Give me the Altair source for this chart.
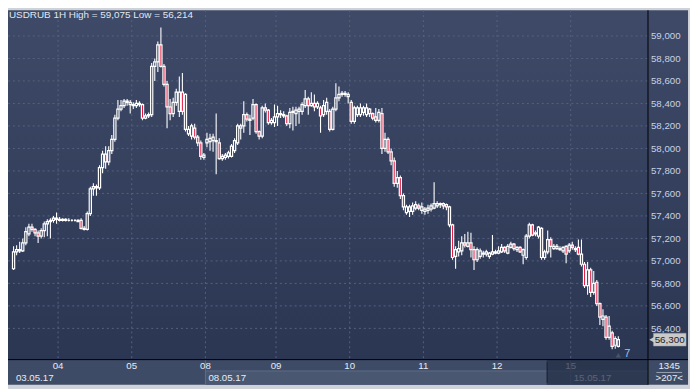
import altair as alt
import pandas as pd

SYMBOL = "USDRUB"
PERIOD = "1H"
DAY_LABELS = ["03", "04", "05", "08", "09", "10", "11", "12", "15"]
DAY_COUNTS = [15, 24, 24, 23, 24, 24, 24, 24, 16]
WEEK_LABELS = ["03.05.17", "08.05.17", "15.05.17"]
WEEK_FIRST_DAY = [0, 3, 8]
Y_TICKS = [56.4, 56.6, 56.8, 57.0, 57.2, 57.4, 57.6, 57.8, 58.0, 58.2, 58.4, 58.6, 58.8, 59.0]
SPREAD = "7"
INFO_TOP = "1345"
INFO_BOTTOM = ">207<"

OPEN = [
    # 03
    56.93, 57.08, 57.10, 57.09, 57.16, 57.24, 57.30, 57.28, 57.25, 57.22, 57.27, 57.33, 57.35, 57.36, 57.38,
    # 04
    57.37, 57.36, 57.37, 57.36, 57.36, 57.36, 57.36, 57.36, 57.29, 57.28, 57.42, 57.64, 57.66, 57.65, 57.83, 57.95,
    57.88, 57.98, 58.08, 58.27, 58.35, 58.38, 58.42, 58.41,
    # 05
    58.39, 58.38, 58.40, 58.39, 58.27, 58.29, 58.30, 58.73, 58.77, 58.92, 58.73, 58.57, 58.37, 58.31, 58.41, 58.33,
    58.50, 58.48, 58.13, 58.11, 58.18, 58.10, 58.05, 57.92,
    # 08
    58.05, 58.06, 58.07, 58.07, 58.05, 57.91, 57.92, 57.93, 57.93, 57.98, 58.05, 58.18, 58.20, 58.30, 58.25, 58.27,
    58.39, 58.15, 58.11, 58.36, 58.34, 58.23, 58.23,
    # 09
    58.28, 58.31, 58.30, 58.29, 58.22, 58.32, 58.31, 58.33, 58.33, 58.38, 58.44, 58.38, 58.40, 58.37, 58.36, 58.30,
    58.33, 58.33, 58.17, 58.35, 58.45, 58.48, 58.49, 58.48,
    # 10
    58.41, 58.24, 58.30, 58.30, 58.36, 58.30, 58.35, 58.31, 58.28, 58.25, 58.31, 58.00, 58.08, 57.97, 57.89, 57.69,
    57.74, 57.58, 57.43, 57.48, 57.44, 57.47, 57.49, 57.45,
    # 11
    57.44, 57.45, 57.46, 57.47, 57.49, 57.51, 57.51, 57.50, 57.48, 57.32, 57.04, 57.08, 57.09, 57.16, 57.13, 57.16,
    57.10, 57.01, 57.04, 57.06, 57.06, 57.04, 57.06, 57.07,
    # 12
    57.07, 57.08, 57.12, 57.07, 57.12, 57.15, 57.10, 57.12, 57.05, 57.03, 57.22, 57.32, 57.25, 57.22, 57.29, 57.03,
    57.08, 57.19, 57.11, 57.13, 57.10, 57.09, 57.13, 57.09,
    # 15
    57.14, 57.10, 57.12, 57.06, 56.97, 56.78, 56.92, 56.72, 56.81, 56.62, 56.48, 56.50, 56.32, 56.36, 56.25, 56.24,
]
HIGH = [
    57.13, 57.14, 57.17, 57.20, 57.30, 57.33, 57.33, 57.29, 57.27, 57.29, 57.35, 57.37, 57.38, 57.40, 57.43,
    57.39, 57.38, 57.38, 57.38, 57.37, 57.37, 57.37, 57.38, 57.31, 57.44, 57.66, 57.69, 57.68, 57.85, 57.98, 58.02,
    58.02, 58.12, 58.30, 58.43, 58.43, 58.44, 58.44, 58.43,
    58.41, 58.43, 58.42, 58.40, 58.31, 58.32, 58.76, 58.80, 58.95, 59.075, 58.75, 58.60, 58.44, 58.45, 58.53, 58.64,
    58.67, 58.49, 58.20, 58.22, 58.22, 58.12, 58.07, 57.96,
    58.14, 58.13, 58.13, 58.31, 58.09, 57.95, 57.96, 57.98, 58.04, 58.09, 58.22, 58.22, 58.42, 58.32, 58.30, 58.44,
    58.40, 58.16, 58.38, 58.40, 58.35, 58.27, 58.39,
    58.38, 58.34, 58.33, 58.30, 58.36, 58.37, 58.37, 58.37, 58.41, 58.52, 58.46, 58.50, 58.48, 58.42, 58.38, 58.43,
    58.45, 58.35, 58.37, 58.58, 58.55, 58.51, 58.51, 58.50,
    58.43, 58.38, 58.38, 58.40, 58.38, 58.40, 58.36, 58.32, 58.36, 58.35, 58.36, 58.14, 58.10, 58.00, 57.92, 57.80,
    57.76, 57.60, 57.50, 57.50, 57.52, 57.53, 57.51, 57.52,
    57.48, 57.50, 57.51, 57.70, 57.53, 57.52, 57.52, 57.51, 57.49, 57.33, 57.13, 57.18, 57.22, 57.24, 57.26, 57.25,
    57.13, 57.12, 57.11, 57.09, 57.10, 57.08, 57.23, 57.10,
    57.13, 57.15, 57.13, 57.15, 57.17, 57.16, 57.13, 57.13, 57.11, 57.24, 57.34, 57.33, 57.27, 57.31, 57.30, 57.10,
    57.27, 57.21, 57.15, 57.15, 57.13, 57.13, 57.14, 57.16,
    57.17, 57.13, 57.19, 57.19, 56.99, 56.99, 56.94, 56.91, 56.83, 56.63, 56.57, 56.52, 56.51, 56.38, 56.33, 56.33,
]
LOW = [
    56.92, 57.05, 57.07, 57.08, 57.14, 57.22, 57.26, 57.22, 57.16, 57.20, 57.21, 57.22, 57.20, 57.34, 57.33,
    57.35, 57.35, 57.35, 57.35, 57.35, 57.35, 57.35, 57.28, 57.27, 57.27, 57.40, 57.58, 57.58, 57.63, 57.78, 57.82,
    57.85, 57.95, 58.06, 58.25, 58.33, 58.36, 58.38, 58.31,
    58.35, 58.36, 58.37, 58.25, 58.26, 58.27, 58.28, 58.60, 58.68, 58.72, 58.55, 58.18, 58.25, 58.28, 58.38, 58.28,
    58.30, 58.15, 58.11, 58.08, 58.08, 58.02, 57.90, 57.90,
    58.01, 57.98, 57.97, 57.77, 57.90, 57.89, 57.90, 57.91, 57.92, 57.96, 58.03, 58.08, 58.14, 58.24, 58.12, 58.25,
    58.13, 58.08, 58.09, 58.32, 58.21, 58.21, 58.19,
    58.20, 58.27, 58.27, 58.20, 58.18, 58.16, 58.20, 58.22, 58.30, 58.36, 58.30, 58.37, 58.33, 58.35, 58.14, 58.28,
    58.30, 58.15, 58.16, 58.33, 58.42, 58.46, 58.46, 58.40,
    58.22, 58.22, 58.28, 58.28, 58.29, 58.28, 58.28, 58.25, 58.23, 58.23, 57.95, 57.97, 57.95, 57.85, 57.66, 57.65,
    57.55, 57.45, 57.41, 57.39, 57.41, 57.45, 57.45, 57.42,
    57.41, 57.42, 57.44, 57.46, 57.47, 57.47, 57.46, 57.45, 57.30, 57.01, 56.93, 57.04, 57.05, 57.12, 57.12, 57.03,
    56.92, 56.99, 57.02, 57.03, 57.04, 57.02, 57.05, 57.06,
    57.06, 57.07, 57.07, 57.06, 57.11, 57.09, 57.08, 57.07, 56.97, 57.01, 57.20, 57.22, 57.22, 57.20, 57.01, 57.01,
    57.06, 57.03, 57.10, 57.10, 57.09, 57.07, 56.98, 57.07,
    57.10, 57.08, 57.05, 56.95, 56.76, 56.70, 56.68, 56.70, 56.60, 56.43, 56.42, 56.30, 56.30, 56.214, 56.22, 56.23,
]
CLOSE = [
    57.08, 57.10, 57.09, 57.16, 57.26, 57.30, 57.28, 57.25, 57.22, 57.27, 57.33, 57.35, 57.36, 57.38, 57.37,
    57.36, 57.37, 57.36, 57.36, 57.36, 57.36, 57.35, 57.29, 57.28, 57.42, 57.64, 57.66, 57.65, 57.83, 57.95, 57.88,
    57.98, 58.08, 58.27, 58.35, 58.38, 58.42, 58.41, 58.39,
    58.38, 58.40, 58.39, 58.27, 58.29, 58.30, 58.73, 58.77, 58.92, 58.73, 58.57, 58.37, 58.31, 58.41, 58.50, 58.50,
    58.33, 58.17, 58.17, 58.20, 58.10, 58.05, 57.93, 57.94,
    58.08, 58.09, 58.10, 58.06, 57.91, 57.93, 57.94, 57.96, 58.02, 58.07, 58.20, 58.20, 58.30, 58.26, 58.26, 58.39,
    58.15, 58.11, 58.36, 58.34, 58.23, 58.25, 58.28,
    58.31, 58.30, 58.29, 58.22, 58.32, 58.33, 58.34, 58.35, 58.39, 58.44, 58.38, 58.40, 58.37, 58.40, 58.29, 58.38,
    58.41, 58.17, 58.35, 58.45, 58.48, 58.49, 58.48, 58.46,
    58.24, 58.36, 58.36, 58.36, 58.32, 58.36, 58.31, 58.27, 58.25, 58.32, 58.00, 58.08, 57.97, 57.89, 57.69, 57.74,
    57.58, 57.48, 57.48, 57.44, 57.49, 57.50, 57.47, 57.48,
    57.46, 57.47, 57.49, 57.51, 57.51, 57.50, 57.49, 57.48, 57.32, 57.03, 57.10, 57.11, 57.16, 57.14, 57.16, 57.10,
    57.01, 57.10, 57.09, 57.07, 57.08, 57.07, 57.08, 57.08,
    57.09, 57.12, 57.09, 57.13, 57.15, 57.11, 57.12, 57.08, 57.10, 57.22, 57.32, 57.23, 57.24, 57.30, 57.03, 57.08,
    57.19, 57.13, 57.13, 57.11, 57.11, 57.12, 57.06, 57.14,
    57.12, 57.11, 57.06, 56.97, 56.78, 56.92, 56.72, 56.80, 56.62, 56.50, 56.51, 56.32, 56.42, 56.24, 56.31, 56.30,
]

# ---------------- layout ----------------
W, H = 647, 354
PAD_R, PAD_B = 43, 27
XMAX = W + PAD_R - 2
YMAX = H + PAD_B - 2
FONT = "Liberation Sans"


def fmt(v):
    return f"{v:.3f}".replace(".", ",")


n = len(CLOSE)
candles = pd.DataFrame({"i": list(range(n)), "open": OPEN, "high": HIGH, "low": LOW, "close": CLOSE})

starts = []
acc = 0
for c in DAY_COUNTS:
    starts.append(acc)
    acc += c
days_df = pd.DataFrame({"g": [s - 0.5 for s in starts[1:]], "label": DAY_LABELS[1:]})
X_DOMAIN = [-0.2, 204.9]
week_x = [X_DOMAIN[0] if d == 0 else starts[d] - 0.5 for d in WEEK_FIRST_DAY]
weeks_df = pd.DataFrame({"g": week_x, "label": WEEK_LABELS})
later_weeks = weeks_df.iloc[1:].reset_index(drop=True)
panel_df = weeks_df.iloc[1:2].reset_index(drop=True)
ticks_df = pd.DataFrame({"v": Y_TICKS})
one = pd.DataFrame({"a": [0]})

xs = alt.Scale(domain=X_DOMAIN, nice=False, zero=False)
ys = alt.Scale(domain=[56.118, 59.229], nice=False, zero=False)
yaxis = alt.Axis(
    orient="right", values=Y_TICKS, grid=False, ticks=False, domain=False,
    labelExpr="replace(format(datum.value, '.3f'), '.', ',')",
    labelPadding=3, labelColor="#c8d2e4", labelFont=FONT, labelFontSize=9.8,
    title=None, labelOverlap=False, zindex=2,
)
X = alt.X("i:Q", scale=xs, axis=None)

grad = alt.Gradient(
    gradient="linear",
    stops=[alt.GradientStop(color="#3e4a67", offset=0), alt.GradientStop(color="#2b3653", offset=1)],
    x1=0, x2=0, y1=0, y2=1,
)
bg = alt.Chart(one).mark_rect(fill=grad).encode(
    x=alt.value(0), x2=alt.value(XMAX), y=alt.value(0), y2=alt.value(H))
strip = alt.Chart(one).mark_rect(fill="#3e4b66").encode(
    x=alt.value(0), x2=alt.value(XMAX), y=alt.value(H), y2=alt.value(YMAX))
panel = alt.Chart(panel_df).mark_rect(fill="#4a5771").encode(
    x=alt.X("g:Q", scale=xs, axis=None), x2=alt.value(W), y=alt.value(H + 11), y2=alt.value(YMAX))
panel_line = alt.Chart(panel_df).mark_rule(color="#5f6c87", strokeWidth=1).encode(
    x=alt.X("g:Q", scale=xs, axis=None), x2=alt.value(W), y=alt.value(H + 11))
week_sep = alt.Chart(later_weeks).mark_rule(color="#5f6c87", strokeWidth=1).encode(
    x=alt.X("g:Q", scale=xs, axis=None), y=alt.value(H), y2=alt.value(YMAX))

hgrid = alt.Chart(ticks_df).mark_rule(color="#56627d", strokeDash=[2, 3], strokeWidth=1).encode(
    y=alt.Y("v:Q", scale=ys, axis=yaxis), x=alt.value(0), x2=alt.value(W))
vgrid = alt.Chart(days_df).mark_rule(color="#56627d", strokeDash=[2, 3], strokeWidth=1).encode(
    x=alt.X("g:Q", scale=xs, axis=None), y=alt.value(0), y2=alt.value(H))

base = alt.Chart(candles).transform_calculate(
    top="max(datum.open, datum.close)", bot="min(datum.open, datum.close)")
wick_hi = base.mark_rule(color="#ffffff", strokeWidth=1.1, clip=True).encode(
    x=X, y=alt.Y("high:Q", scale=ys, axis=yaxis), y2=alt.Y2("top:Q"))
wick_lo = base.mark_rule(color="#ffffff", strokeWidth=1.1, clip=True).encode(
    x=X, y=alt.Y("bot:Q", scale=ys, axis=yaxis), y2=alt.Y2("low:Q"))
up = base.transform_filter("datum.close >= datum.open").mark_bar(
    size=2.2, fill="#000000", fillOpacity=0, stroke="#ffffff", strokeWidth=1.2, clip=True).encode(
    x=X, y=alt.Y("open:Q", scale=ys, axis=yaxis), y2=alt.Y2("close:Q"))
down = base.transform_filter("datum.close < datum.open").mark_bar(
    size=2.2, fill="#e3173e", stroke="#ffffff", strokeWidth=1.2, clip=True).encode(
    x=X, y=alt.Y("open:Q", scale=ys, axis=yaxis), y2=alt.Y2("close:Q"))

day_text = alt.Chart(days_df).mark_text(
    font=FONT, fontSize=9.8, color="#e6ecf5", align="center", baseline="middle").encode(
    x=alt.X("g:Q", scale=xs, axis=None), y=alt.value(H + 6), text="label:N")
week_text = alt.Chart(weeks_df).mark_text(
    font=FONT, fontSize=9.8, color="#e6ecf5", align="left", baseline="middle", dx=3).encode(
    x=alt.X("g:Q", scale=xs, axis=None), y=alt.value(H + 18), text="label:N")

overlay = alt.Chart(one).mark_rect(fill="#222c45", opacity=0.72).encode(
    x=alt.value(545), x2=alt.value(W), y=alt.value(H), y2=alt.value(YMAX))
overlay_edge = alt.Chart(one).mark_rule(color="#1a2236", strokeWidth=1).encode(
    x=alt.value(545.5), y=alt.value(H + 2), y2=alt.value(YMAX - 2))

hline = alt.Chart(one).mark_rule(color="#000000", strokeWidth=1).encode(
    x=alt.value(0), x2=alt.value(XMAX), y=alt.value(H - 0.5))
vline = alt.Chart(one).mark_rule(color="#000000", strokeWidth=1).encode(
    x=alt.value(W + 0.5), y=alt.value(0), y2=alt.value(YMAX))

info_top = alt.Chart(one).mark_text(
    font=FONT, fontSize=9.8, color="#e6ecf5", align="center", baseline="middle", text=INFO_TOP).encode(
    x=alt.value(W + 22), y=alt.value(H + 5.5))
info_bottom = alt.Chart(one).mark_text(
    font=FONT, fontSize=9.8, color="#e6ecf5", align="center", baseline="middle", text=INFO_BOTTOM).encode(
    x=alt.value(W + 22), y=alt.value(H + 18.5))
info_line = alt.Chart(one).mark_rule(color="#9aa3b4", strokeWidth=1).encode(
    x=alt.value(W + 9), x2=alt.value(W + 35), y=alt.value(H + 12.5))

tag_df = pd.DataFrame({"v": [CLOSE[-1]], "t": [fmt(CLOSE[-1])]})
tag_rect = alt.Chart(tag_df).mark_rect(
    fill="#c9c9c9", stroke="#9a9a9a", strokeWidth=0.5, yOffset=-6.5, y2Offset=6.5).encode(
    x=alt.value(W + 6), x2=alt.value(W + 39),
    y=alt.Y("v:Q", scale=ys, axis=yaxis), y2=alt.Y2("v:Q"))
tag_arrow = alt.Chart(tag_df).mark_point(
    shape="triangle-left", filled=True, fill="#c9c9c9", opacity=1, size=55, strokeWidth=0).encode(
    x=alt.value(W + 5), y=alt.Y("v:Q", scale=ys, axis=yaxis))
tag_text = alt.Chart(tag_df).mark_text(
    font=FONT, fontSize=10, color="#1e1e1e", align="center", baseline="middle").encode(
    x=alt.value(W + 22.5), y=alt.Y("v:Q", scale=ys, axis=yaxis), text="t:N")

spread_df = pd.DataFrame({"i": [n - 1], "t": [SPREAD]})
spread_tri = alt.Chart(spread_df).mark_point(
    shape="triangle-up", filled=True, color="#4a5263", opacity=1, size=28).encode(
    x=X, y=alt.value(H - 5))
spread_text = alt.Chart(spread_df).mark_text(
    font=FONT, fontSize=11, color="#9cc3f2", align="left", baseline="middle", dx=6).encode(
    x=X, y=alt.value(H - 6), text="t:N")

title_df = pd.DataFrame({"t": [f"{SYMBOL} {PERIOD} High = {fmt(max(HIGH))} Low = {fmt(min(LOW))}"]})
title = alt.Chart(title_df).mark_text(
    font=FONT, fontSize=10, color="#e1e7f0", align="left", baseline="middle").encode(
    x=alt.value(1), y=alt.value(5), text="t:N")

chart = alt.layer(
    bg, strip, panel, panel_line, week_sep, hgrid, vgrid,
    wick_hi, wick_lo, up, down,
    day_text, week_text, overlay, overlay_edge, hline, vline,
    info_top, info_bottom, info_line, tag_rect, tag_arrow, tag_text, spread_tri, spread_text, title,
).properties(
    width=W, height=H,
    autosize=alt.AutoSizeParams(type="none"),
    padding={"left": 0, "top": 0, "right": PAD_R, "bottom": PAD_B},
    background="#cfd2d8",
).configure_view(strokeWidth=0)

chart.save("out.html", embed_options={"renderer": "svg", "actions": False})
